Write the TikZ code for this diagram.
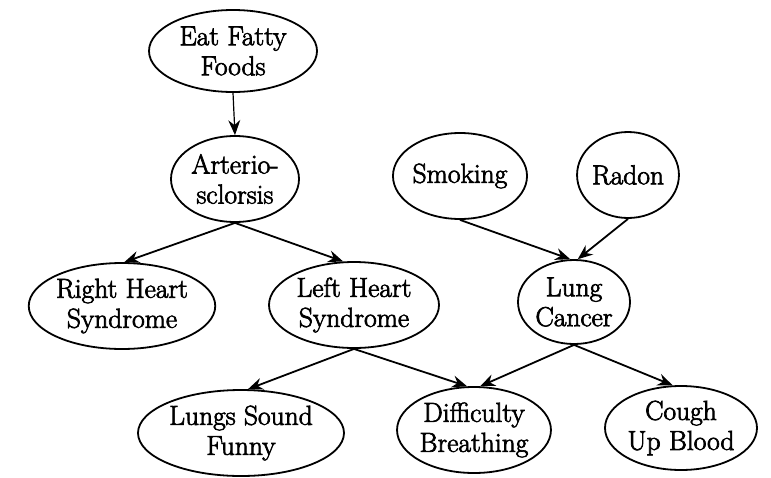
\documentclass[tikz,border=0pt]{standalone}
\usepackage{fontspec}
\newfontfamily\nodefont{Latin Modern Roman}[FakeBold=2.5]
\usetikzlibrary{shapes.geometric,arrows.meta}
\begin{document}
\begin{tikzpicture}[x=1pt,y=-1pt,
  ev/.style={ellipse,draw,line width=1.8pt,inner sep=0pt,align=center,
    font=\nodefont\fontsize{27.5}{30}\selectfont},
  edge/.style={line width=1.8pt,-{Stealth[length=15pt,width=12pt,inset=5pt]}}]
\useasboundingbox (0,0) rectangle (771,477);
\node[ev,minimum width=168pt,minimum height=82pt] (eat) at (233,51) {Eat Fatty\\Foods};
\node[ev,minimum width=128pt,minimum height=86pt] (art) at (235,179) {Arterio-\\sclorsis};
\node[ev,minimum width=134pt,minimum height=86pt] (smk) at (460,176) {Smoking};
\node[ev,minimum width=94pt,minimum height=86pt] (rad) at (628,175) {Radon};
\node[ev,minimum width=186pt,minimum height=86pt] (rhs) at (122,306) {Right Heart\\Syndrome};
\node[ev,minimum width=170pt,minimum height=86pt] (lhs) at (354,305) {Left Heart\\Syndrome};
\node[ev,minimum width=112pt,minimum height=84pt] (lc) at (574,302) {Lung\\Cancer};
\node[ev,minimum width=206pt,minimum height=86pt] (lsf) at (241,433) {Lungs Sound\\Funny};
\node[ev,minimum width=152pt,minimum height=86pt] (db) at (474,430) {Difficulty\\Breathing};
\node[ev,minimum width=152pt,minimum height=84pt] (cub) at (681,428) {Cough\\Up Blood};
\draw[edge,line width=1.2pt] (eat.south) -- (art.north);
\draw[edge] (art.south) -- (rhs.87);
\draw[edge] (art.south) -- (lhs.104);
\draw[edge] (smk.south) -- (lc.95);
\draw[edge] (rad.south) -- (lc.85);
\draw[edge] (lhs.south) -- (lsf.81);
\draw[edge] (lhs.south) -- (db.99);
\draw[edge] (lc.south) -- (db.82);
\draw[edge] (lc.south) -- (cub.101);
\end{tikzpicture}
\end{document}
